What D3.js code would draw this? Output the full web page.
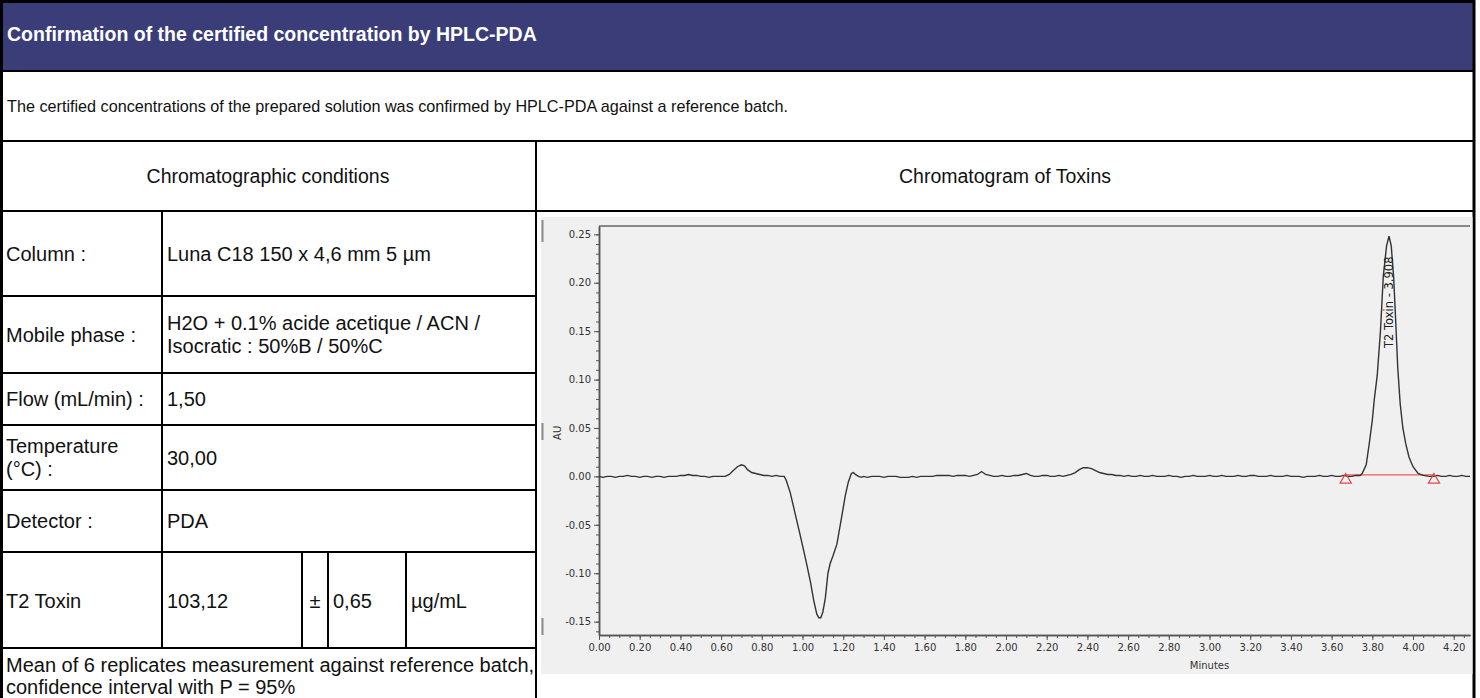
<!DOCTYPE html>
<html>
<head>
<meta charset="utf-8">
<script src="https://cdn.jsdelivr.net/npm/d3@7"></script>
<style>
    body { margin: 0; background: #ffffff; }
    #sheet text { font-family: "Liberation Sans", Arial, sans-serif; }
    #sheet .chromo text { font-family: "DejaVu Sans", Verdana, sans-serif; }
</style>
</head>
<body>
<div id="sheet"></div>
<script>
///////////////////////////////////////////////
//////////////////// DATA /////////////////////
///////////////////////////////////////////////

var headerTitle = "Confirmation of the certified concentration by HPLC-PDA";
var descriptionText = "The certified concentrations of the prepared solution was confirmed by HPLC-PDA against a reference batch.";
var leftHeading = "Chromatographic conditions";
var rightHeading = "Chromatogram of Toxins";

// one entry per row, each entry = lines of text
var conditionLabels = [["Column :"], ["Mobile phase :"], ["Flow (mL/min) :"], ["Temperature", "(°C) :"], ["Detector :"]];
var conditionValues = [["Luna C18 150 x 4,6 mm 5 µm"], ["H2O + 0.1% acide acetique / ACN /", "Isocratic : 50%B / 50%C"], ["1,50"], ["30,00"], ["PDA"]];

var resultCells = ["T2 Toxin", "103,12", "±", "0,65", "µg/mL"];
var footnoteLines = ["Mean of 6 replicates measurement against reference batch,", "confidence interval with P = 95%"];

// chromatogram trace, [minutes, AU]
var tracePoints = [
    [0.00, 0.000], [0.02, -0.001], [0.04, 0.000], [0.06, 0.000], [0.08, -0.001], [0.10, 0.000],
    [0.12, 0.000], [0.14, 0.001], [0.16, 0.000], [0.18, 0.000], [0.20, -0.001], [0.22, 0.000],
    [0.24, 0.000], [0.26, -0.001], [0.28, 0.000], [0.30, 0.000], [0.32, -0.001], [0.34, 0.000],
    [0.36, 0.000], [0.38, 0.000], [0.40, 0.001], [0.42, 0.001], [0.44, 0.002], [0.46, 0.001],
    [0.48, 0.001], [0.50, 0.000], [0.52, 0.000], [0.54, -0.001], [0.56, 0.000], [0.58, 0.000],
    [0.60, 0.000], [0.62, 0.000], [0.64, 0.002], [0.66, 0.006], [0.68, 0.010], [0.70, 0.012],
    [0.715, 0.011], [0.73, 0.007], [0.75, 0.004], [0.77, 0.003], [0.79, 0.002], [0.81, 0.001],
    [0.83, 0.001], [0.85, 0.000], [0.87, 0.001], [0.89, 0.000], [0.91, 0.000], [0.92, -0.004],
    [0.94, -0.017], [0.96, -0.035], [0.99, -0.062], [1.02, -0.090], [1.04, -0.110], [1.055, -0.128],
    [1.07, -0.142], [1.08, -0.146], [1.09, -0.146], [1.10, -0.140], [1.112, -0.126], [1.125, -0.100],
    [1.136, -0.090], [1.15, -0.082], [1.169, -0.070], [1.194, -0.040], [1.21, -0.020], [1.225, -0.006],
    [1.24, 0.003], [1.25, 0.004], [1.26, 0.002], [1.275, 0.000], [1.29, -0.001], [1.30, 0.000],
    [1.32, -0.001], [1.34, 0.000], [1.36, 0.000], [1.38, 0.000], [1.40, -0.001], [1.42, 0.000],
    [1.44, 0.000], [1.46, 0.000], [1.48, -0.001], [1.50, -0.001], [1.52, -0.001], [1.54, 0.000],
    [1.56, -0.001], [1.58, 0.000], [1.60, 0.000], [1.62, 0.000], [1.64, 0.000], [1.66, 0.001],
    [1.68, 0.001], [1.70, 0.001], [1.72, 0.001], [1.74, 0.000], [1.76, 0.001], [1.78, 0.001],
    [1.80, 0.001], [1.82, 0.000], [1.84, 0.001], [1.86, 0.002], [1.88, 0.005], [1.90, 0.002],
    [1.92, 0.001], [1.94, 0.000], [1.96, 0.000], [1.98, 0.001], [2.00, 0.000], [2.02, 0.000],
    [2.04, 0.001], [2.06, 0.001], [2.08, 0.002], [2.10, 0.003], [2.12, 0.001], [2.14, 0.000],
    [2.16, 0.000], [2.18, 0.001], [2.20, 0.001], [2.22, 0.000], [2.24, 0.000], [2.26, 0.001],
    [2.28, 0.000], [2.30, 0.001], [2.32, 0.002], [2.34, 0.004], [2.36, 0.007], [2.38, 0.009],
    [2.40, 0.009], [2.42, 0.008], [2.44, 0.006], [2.46, 0.004], [2.48, 0.003], [2.50, 0.002],
    [2.52, 0.002], [2.54, 0.001], [2.56, 0.001], [2.58, 0.000], [2.60, 0.001], [2.62, 0.000],
    [2.64, 0.000], [2.66, 0.001], [2.68, 0.000], [2.70, 0.000], [2.72, 0.001], [2.74, 0.000],
    [2.76, 0.000], [2.78, 0.000], [2.80, 0.001], [2.82, 0.000], [2.84, 0.000], [2.86, -0.001],
    [2.88, 0.000], [2.90, 0.000], [2.92, 0.001], [2.94, 0.000], [2.96, 0.000], [2.98, 0.000],
    [3.00, 0.001], [3.02, 0.000], [3.04, 0.000], [3.06, 0.001], [3.08, 0.000], [3.10, 0.000],
    [3.12, 0.000], [3.14, 0.001], [3.16, 0.000], [3.18, 0.000], [3.20, 0.001], [3.22, 0.001],
    [3.24, 0.000], [3.26, 0.000], [3.28, 0.000], [3.30, 0.001], [3.32, 0.000], [3.34, 0.000],
    [3.36, 0.000], [3.38, 0.001], [3.40, 0.000], [3.42, 0.000], [3.44, 0.000], [3.46, -0.001],
    [3.48, 0.000], [3.50, 0.000], [3.52, 0.000], [3.54, 0.001], [3.56, 0.000], [3.58, 0.000],
    [3.60, 0.001], [3.62, 0.000], [3.64, 0.000], [3.66, 0.001], [3.68, 0.000], [3.70, 0.000],
    [3.72, 0.001], [3.74, 0.001], [3.75, 0.003], [3.77, 0.012], [3.785, 0.034], [3.80, 0.058],
    [3.81, 0.080], [3.824, 0.104], [3.84, 0.150], [3.854, 0.207], [3.87, 0.238], [3.882, 0.248],
    [3.893, 0.238], [3.905, 0.205], [3.915, 0.160], [3.925, 0.112], [3.937, 0.075], [3.95, 0.050],
    [3.964, 0.034], [3.98, 0.020], [4.00, 0.010], [4.025, 0.003], [4.05, 0.001], [4.08, 0.000],
    [4.10, 0.000], [4.12, 0.001], [4.14, 0.000], [4.16, 0.000], [4.18, 0.001], [4.20, 0.000],
    [4.22, 0.000], [4.24, 0.001], [4.26, 0.000], [4.28, 0.000]
];

// integrated peak
var peakLabel = "T2 Toxin - 3.908";
var peakApex = [3.882, 0.248];
var baselineMinutes = [3.669, 4.103];
var baselineAU = [0.0015, 0.0015];

// axis ticks
var yTickValues = [-0.15, -0.10, -0.05, 0.00, 0.05, 0.10, 0.15, 0.20, 0.25];
var xTickValues = [0.00, 0.20, 0.40, 0.60, 0.80, 1.00, 1.20, 1.40, 1.60, 1.80, 2.00, 2.20,
    2.40, 2.60, 2.80, 3.00, 3.20, 3.40, 3.60, 3.80, 4.00, 4.20];
var xDomain = [0, 4.28];
var yDomain = [-0.1638, 0.2586];

///////////////////////////////////////////////
/////////////////// LAYOUT ////////////////////
///////////////////////////////////////////////

var width = 1480, height = 698;
var tableRight = 1474;
var splitX = 536;          // left table | chromatogram
var labelColX = 162;       // label | value
var resultCols = [0, 162, 302, 328, 406];
var headerBottom = 71, descBottom = 141, headingBottom = 211;
var conditionRows = [211, 296, 373, 425, 490, 552];
var resultRow = [552, 648];
var lineH = 23;
var cellFont = "20px";

var svg = d3.select("#sheet")
    .append("svg")
    .attr("width", width)
    .attr("height", height);

// Header band
svg.append("rect")
    .attr("x", 0).attr("y", 0)
    .attr("width", tableRight).attr("height", headerBottom)
    .attr("fill", "#3a3d78");

svg.append("text")
    .attr("x", 7).attr("y", headerBottom / 2 - 1)
    .attr("dy", "0.35em")
    .text(headerTitle)
    .style("font-size", "19.5px")
    .style("font-weight", "bold")
    .style("fill", "#ffffff");

// Description
svg.append("text")
    .attr("x", 7).attr("y", (headerBottom + descBottom) / 2)
    .attr("dy", "0.35em")
    .text(descriptionText)
    .style("font-size", "16.2px")
    .style("fill", "#111");

// Headings
svg.append("text")
    .attr("x", splitX / 2).attr("y", (descBottom + headingBottom) / 2)
    .attr("dy", "0.35em")
    .attr("text-anchor", "middle")
    .text(leftHeading)
    .style("font-size", "19.5px")
    .style("fill", "#111");

svg.append("text")
    .attr("x", (splitX + tableRight) / 2).attr("y", (descBottom + headingBottom) / 2)
    .attr("dy", "0.35em")
    .attr("text-anchor", "middle")
    .text(rightHeading)
    .style("font-size", "19.5px")
    .style("fill", "#111");

// helper: write multi-line text centred on a row
function cellText(lines, x, top, bottom, anchor) {
    var mid = (top + bottom) / 2 - (lines.length - 1) * lineH / 2;
    var t = svg.append("text")
        .attr("x", x)
        .attr("text-anchor", anchor || "start")
        .style("font-size", cellFont)
        .style("fill", "#111");
    lines.forEach(function (l, i) {
        t.append("tspan")
            .attr("x", x)
            .attr("y", mid + i * lineH)
            .attr("dy", "0.35em")
            .text(l);
    });
}

// Condition rows
for (var i = 0; i < conditionLabels.length; i++) {
    cellText(conditionLabels[i], 6, conditionRows[i], conditionRows[i + 1]);
    cellText(conditionValues[i], labelColX + 5, conditionRows[i], conditionRows[i + 1]);
}

// Result row (T2 Toxin 103,12 ± 0,65 µg/mL)
resultCells.forEach(function (c, i) {
    if (i === 2) {
        cellText([c], (resultCols[2] + resultCols[3]) / 2, resultRow[0], resultRow[1] + 2, "middle");
    } else {
        cellText([c], resultCols[i] + (i === 0 ? 6 : 5), resultRow[0], resultRow[1] + 2);
    }
});

// Footnote
footnoteLines.forEach(function (l, i) {
    svg.append("text")
        .attr("x", 6).attr("y", 665 + i * 22)
        .attr("dy", "0.35em")
        .text(l)
        .style("font-size", cellFont)
        .style("fill", "#111");
});

// Grid lines of the table
var grid = svg.append("g")
    .attr("stroke", "#000")
    .attr("stroke-width", 2)
    .attr("fill", "none");

[headerBottom, descBottom, headingBottom].forEach(function (y) {
    grid.append("line").attr("x1", 0).attr("x2", tableRight).attr("y1", y).attr("y2", y);
});
conditionRows.slice(1).concat([resultRow[1]]).forEach(function (y) {
    grid.append("line").attr("x1", 0).attr("x2", splitX).attr("y1", y).attr("y2", y);
});
grid.append("line").attr("x1", splitX).attr("x2", splitX).attr("y1", descBottom).attr("y2", height);
grid.append("line").attr("x1", labelColX).attr("x2", labelColX).attr("y1", headingBottom).attr("y2", resultRow[1]);
resultCols.slice(2).forEach(function (x) {
    grid.append("line").attr("x1", x).attr("x2", x).attr("y1", resultRow[0]).attr("y2", resultRow[1]);
});
// outer frame
grid.append("line").attr("x1", 1.5).attr("x2", 1.5).attr("y1", 0).attr("y2", height).attr("stroke-width", 3);
grid.append("line").attr("x1", tableRight).attr("x2", tableRight).attr("y1", 0).attr("y2", height).attr("stroke-width", 3);
grid.append("line").attr("x1", 0).attr("x2", tableRight).attr("y1", 1.5).attr("y2", 1.5).attr("stroke-width", 3);

///////////////////////////////////////////////
//////////////// CHROMATOGRAM /////////////////
///////////////////////////////////////////////

var chromo = svg.append("g").attr("class", "chromo");

// screenshot background
chromo.append("rect")
    .attr("x", 541).attr("y", 217)
    .attr("width", tableRight - 1.5 - 541).attr("height", 674 - 217)
    .attr("fill", "#f0f0f0");

var plot = { left: 599, right: 1470, top: 226, bottom: 635 };

var x = d3.scaleLinear().domain(xDomain).range([plot.left, plot.right]);
var y = d3.scaleLinear().domain(yDomain).range([plot.bottom, plot.top]);

// small grey marks on the left edge of the screenshot
[[220, 242], [423, 440], [618, 635]].forEach(function (m) {
    chromo.append("line")
        .attr("x1", 542.5).attr("x2", 542.5)
        .attr("y1", m[0]).attr("y2", m[1])
        .attr("stroke", "#8a8a8a").attr("stroke-width", 2);
});

var fmt = function (d) { return d.toFixed(2); };   // plain hyphen minus like the instrument software

// minor ticks
var xMinor = chromo.append("g")
    .attr("transform", "translate(0," + plot.bottom + ")")
    .call(d3.axisBottom(x).tickValues(d3.range(0, 4.2801, 0.05)).tickSize(3).tickSizeOuter(0).tickFormat(""));
var yMinor = chromo.append("g")
    .attr("transform", "translate(" + plot.left + ",0)")
    .call(d3.axisLeft(y).tickValues(d3.range(-0.16, 0.2501, 0.01)).tickSize(3).tickSizeOuter(0).tickFormat(""));

// major ticks + labels
var xAxis = chromo.append("g")
    .attr("transform", "translate(0," + plot.bottom + ")")
    .call(d3.axisBottom(x).tickValues(xTickValues).tickSize(5).tickSizeOuter(0).tickPadding(4).tickFormat(fmt));
var yAxis = chromo.append("g")
    .attr("transform", "translate(" + plot.left + ",0)")
    .call(d3.axisLeft(y).tickValues(yTickValues).tickSize(5).tickSizeOuter(0).tickPadding(3).tickFormat(fmt));

[xMinor, yMinor, xAxis, yAxis].forEach(function (a) {
    a.selectAll(".domain").attr("stroke", "#555").attr("stroke-width", 1.5);
    a.selectAll(".tick line").attr("stroke", "#555");
    a.selectAll(".tick text").style("font-size", "10px").style("fill", "#333");
});

// top frame line
chromo.append("line")
    .attr("x1", plot.left).attr("x2", plot.right)
    .attr("y1", plot.top).attr("y2", plot.top)
    .attr("stroke", "#666").attr("stroke-width", 1.5);

// axis titles
chromo.append("text")
    .attr("transform", "translate(557," + y(0.045) + ") rotate(-90)")
    .attr("text-anchor", "middle")
    .attr("dy", "0.35em")
    .text("AU")
    .style("font-size", "10px")
    .style("fill", "#333");

chromo.append("text")
    .attr("x", x(3.0)).attr("y", 665)
    .attr("text-anchor", "middle")
    .attr("dy", "0.35em")
    .text("Minutes")
    .style("font-size", "10px")
    .style("fill", "#333");

// integration baseline
chromo.append("line")
    .attr("x1", x(baselineMinutes[0])).attr("x2", x(baselineMinutes[1]))
    .attr("y1", y(baselineAU[0])).attr("y2", y(baselineAU[1]))
    .attr("stroke", "#ef5a5a").attr("stroke-width", 1.3);

// the trace
var line = d3.line()
    .x(function (d) { return x(d[0]); })
    .y(function (d) { return y(d[1]); });

chromo.append("path")
    .datum(tracePoints)
    .attr("d", line)
    .attr("fill", "none")
    .attr("stroke", "#333")
    .attr("stroke-width", 1.4);

// start / end markers
baselineMinutes.forEach(function (m, i) {
    chromo.append("path")
        .attr("d", d3.symbol(d3.symbolTriangle, 55)())
        .attr("transform", "translate(" + x(m) + "," + (y(baselineAU[i]) + 5) + ")")
        .attr("fill", "none")
        .attr("stroke", "#e04848")
        .attr("stroke-width", 1.2);
});

// peak label
chromo.append("text")
    .attr("transform", "translate(" + x(peakApex[0]) + "," + (y(peakApex[1]) + 66) + ") rotate(-90)")
    .attr("text-anchor", "middle")
    .attr("dy", "0.35em")
    .text(peakLabel)
    .style("font-size", "11.5px")
    .style("fill", "#222");
</script>
</body>
</html>
